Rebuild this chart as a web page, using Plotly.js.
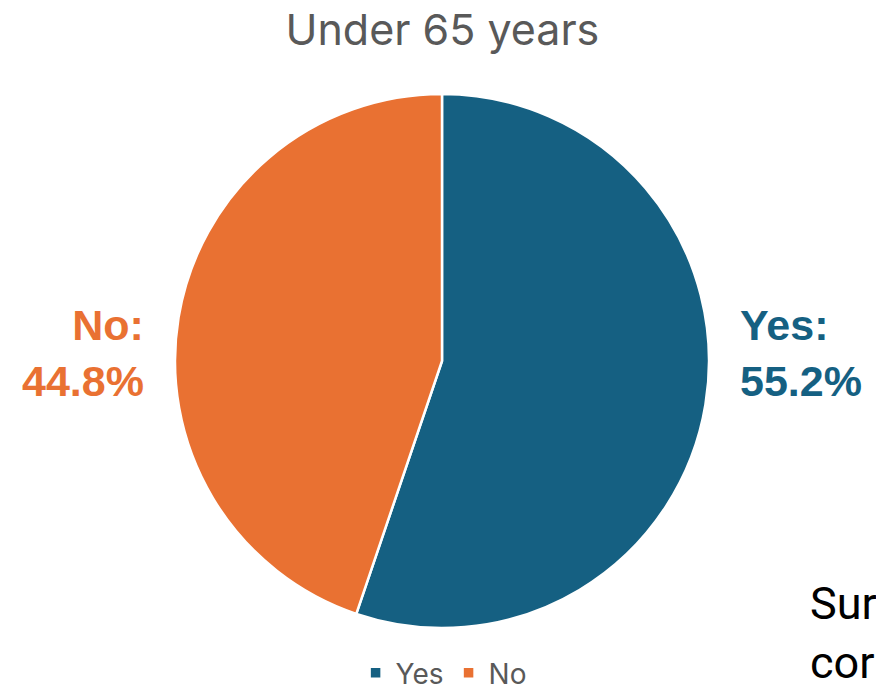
<!DOCTYPE html>
<html>
<head>
<meta charset="utf-8">
<script src="https://cdn.plot.ly/plotly-3.0.1.min.js"></script>
<style>html,body{margin:0;padding:0;background:#fff;}#chart{width:876px;height:698px;}</style>
</head>
<body>
<div id="chart"></div>
<script>
const categories = ["Yes", "No"];
const values = [55.2, 44.8];
const colors = ["#156082", "#E97132"];
const chartTitle = "Under 65 years";
const sideText = ["Sur", "cor"];

const pct = v => v.toFixed(1) + "%";

const trace = {
  type: "pie",
  labels: categories,
  values: values,
  sort: false,
  direction: "clockwise",
  rotation: 0,
  textinfo: "none",
  hoverinfo: "label+percent",
  marker: { colors: colors, line: { color: "#ffffff", width: 2.5 } },
  domain: { x: [0, 1], y: [0, 1] }
};

const annotations = [
  {
    xref: "paper", yref: "paper", x: 1.054, y: 0.515, xanchor: "left", yanchor: "middle",
    align: "left", showarrow: false,
    text: "<b>" + categories[0] + ":<br>" + pct(values[0]) + "</b>",
    font: { family: "Liberation Sans, Arial, sans-serif", size: 43, color: colors[0] }
  },
  {
    xref: "paper", yref: "paper", x: -0.054, y: 0.515, xanchor: "right", yanchor: "middle",
    align: "right", showarrow: false,
    text: "<b>" + categories[1] + ":<br>" + pct(values[1]) + "</b>",
    font: { family: "Liberation Sans, Arial, sans-serif", size: 43, color: colors[1] }
  },
  {
    xref: "paper", yref: "paper", x: 1.185, y: -0.009, xanchor: "left", yanchor: "middle",
    align: "left", showarrow: false,
    text: sideText.join("<br>"),
    font: { family: "Roboto, sans-serif", size: 45, color: "#000000" }
  }
];

const layout = {
  width: 876, height: 698,
  margin: { l: 175, r: 167, t: 94, b: 70, pad: 0, autoexpand: false },
  paper_bgcolor: "#ffffff", plot_bgcolor: "#ffffff",
  title: {
    text: chartTitle, x: 0.505, xanchor: "center", y: 0.957, yanchor: "middle",
    font: { family: "Inter, Open Sans, sans-serif", size: 43, color: "#595959" }
  },
  showlegend: true,
  legend: {
    orientation: "h", x: 0.503, xanchor: "center", yref: "container", y: -0.004, yanchor: "bottom",
    font: { family: "Inter, Open Sans, sans-serif", size: 28, color: "#595959" },
    itemwidth: 30, traceorder: "normal", tracegroupgap: 0
  },
  annotations: annotations
};

Plotly.newPlot("chart", [trace], layout, { displayModeBar: false, staticPlot: true });
</script>
</body>
</html>
